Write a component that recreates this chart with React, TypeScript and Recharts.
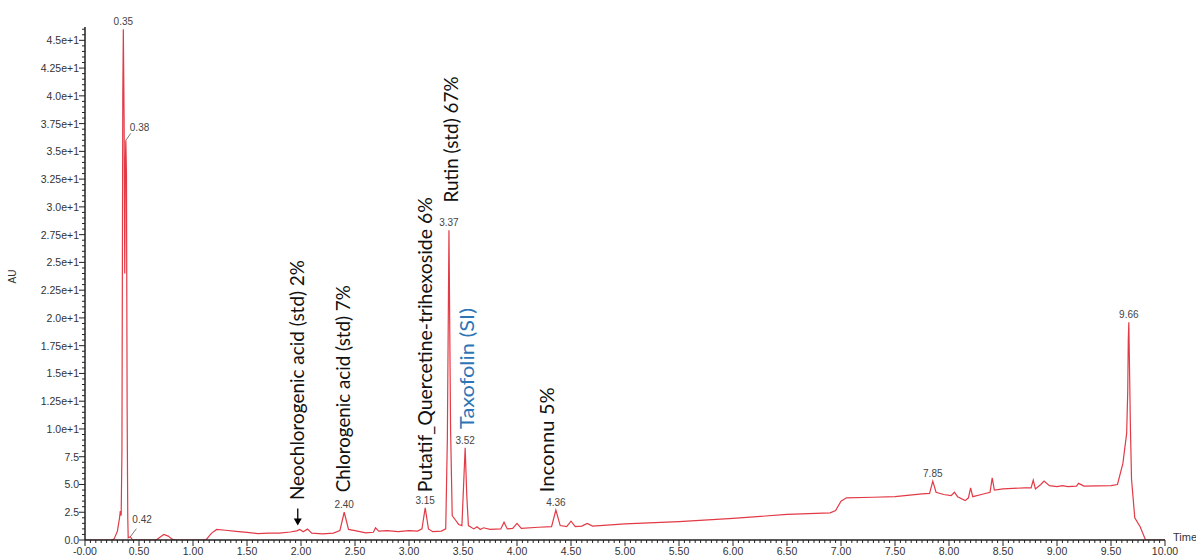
import React from "react";
import { LineChart, Line, XAxis, YAxis, ReferenceDot, Label } from "recharts";

// chromatogram trace (time in min, AU)
const retentionTimes = [
  0.0, 0.25, 0.27, 0.3, 0.32, 0.327, 0.335, 0.342, 0.35, 0.355, 0.362, 0.368, 0.374, 0.378, 0.384, 0.39, 0.396, 0.4,
  0.42, 0.44, 0.66, 0.7, 0.73, 0.77, 0.81, 0.84, 1.12, 1.17, 1.22, 1.3, 1.4, 1.5, 1.6, 1.7, 1.8, 1.9, 1.96, 1.99,
  2.02, 2.06, 2.1, 2.2, 2.3, 2.36, 2.4, 2.44, 2.5, 2.6, 2.67, 2.69, 2.72, 2.8, 2.9, 3.0, 3.08, 3.12, 3.15, 3.18,
  3.22, 3.3, 3.34, 3.355, 3.37, 3.385, 3.4, 3.43, 3.46, 3.49, 3.51, 3.52, 3.535, 3.55, 3.6, 3.63, 3.66, 3.69, 3.75,
  3.85, 3.88, 3.91, 3.96, 4.0, 4.04, 4.2, 4.32, 4.36, 4.4, 4.46, 4.5, 4.54, 4.6, 4.65, 4.7, 5.0, 5.5, 6.0, 6.5, 6.9,
  6.95, 7.0, 7.05, 7.3, 7.5, 7.75, 7.82, 7.85, 7.88, 7.95, 8.02, 8.05, 8.08, 8.15, 8.18, 8.2, 8.22, 8.3, 8.38, 8.4,
  8.42, 8.5, 8.7, 8.76, 8.78, 8.8, 8.85, 8.88, 8.93, 9.0, 9.05, 9.1, 9.18, 9.2, 9.25, 9.5, 9.56, 9.61, 9.645, 9.655,
  9.66, 9.665, 9.68, 9.69, 9.72, 9.77, 9.82, 10.0,
];
const absorbance = [
  0.0, 0.0, 0.1, 0.8, 2.0, 2.6, 2.2, 8, 40, 46, 38, 24, 34, 36, 33, 12, 2, 0.2,
  0.3, 0.0, 0.0, 0.3, 0.5, 0.35, 0.05, 0.0, 0.0, 0.6, 0.95, 0.88, 0.78, 0.68, 0.58, 0.62, 0.62, 0.72, 0.82, 0.95,
  0.75, 0.98, 0.62, 0.55, 0.62, 0.85, 2.5, 0.95, 0.85, 0.65, 0.7, 1.1, 0.8, 0.85, 0.75, 0.85, 0.8, 1.0, 2.9, 1.0,
  0.75, 0.8, 1.0, 9, 27.9, 10, 2.2, 1.8, 1.4, 1.3, 6, 8.3, 4, 1.3, 1.0, 1.2, 0.95, 1.1, 0.95,
  1.0, 1.6, 1.0, 1.05, 1.5, 1.05, 1.15, 1.2, 2.7, 1.3, 1.2, 1.7, 1.2, 1.25, 1.5, 1.25, 1.45, 1.65, 1.95, 2.3, 2.45,
  2.65, 3.5, 3.8, 3.85, 3.9, 4.15, 4.2, 5.3, 4.3, 4.1, 4.0, 4.3, 3.9, 3.55, 3.8, 4.7, 3.9, 4.1, 4.3, 5.6,
  4.5, 4.6, 4.7, 4.7, 5.4, 4.6, 5.0, 5.3, 4.9, 4.8, 4.9, 4.8, 4.85, 5.1, 4.85, 4.9, 5.0, 6.9, 9.6, 13.4,
  18, 19.6, 10, 5.5, 2.0, 1.2, 0.0, 0.0,
];

const xTickValues = [0, 0.5, 1, 1.5, 2, 2.5, 3, 3.5, 4, 4.5, 5, 5.5, 6, 6.5, 7, 7.5, 8, 8.5, 9, 9.5, 10];
const xTickLabels = [
  "-0.00", "0.50", "1.00", "1.50", "2.00", "2.50", "3.00", "3.50", "4.00", "4.50", "5.00",
  "5.50", "6.00", "6.50", "7.00", "7.50", "8.00", "8.50", "9.00", "9.50", "10.00",
];
const yTickValues = [0, 2.5, 5, 7.5, 10, 12.5, 15, 17.5, 20, 22.5, 25, 27.5, 30, 32.5, 35, 37.5, 40, 42.5, 45];
const yTickLabels = [
  "0.0", "2.5", "5.0", "7.5", "1.0e+1", "1.25e+1", "1.5e+1", "1.75e+1", "2.0e+1", "2.25e+1", "2.5e+1",
  "2.75e+1", "3.0e+1", "3.25e+1", "3.5e+1", "3.75e+1", "4.0e+1", "4.25e+1", "4.5e+1",
];

// peak apex labels
const peakTimes = [0.355, 0.378, 0.42, 2.4, 3.15, 3.37, 3.52, 4.36, 7.85, 9.665];
const peakHeights = [46, 36, 0.3, 2.5, 2.9, 27.9, 8.3, 2.7, 5.3, 19.6];
const peakLabels = ["0.35", "0.38", "0.42", "2.40", "3.15", "3.37", "3.52", "4.36", "7.85", "9.66"];

// compound names written vertically over the peaks
const compoundNames = [
  "Neochlorogenic acid (std) 2%",
  "Chlorogenic acid (std) 7%",
  "Putatif_Quercetine-trihexoside 6%",
  "Rutin (std) 67%",
  "Taxofolin (SI)",
  "Inconnu 5%",
];
const compoundTimes = [1.963, 2.39, 3.15, 3.39, 3.54, 4.28];
const compoundBase = [3.6, 4.3, 4.3, 30.4, 10.0, 4.3];
const compoundColors = ["#111", "#111", "#111", "#111", "#2e75b6", "#111"];
const compoundLengths = [240, 207, 295, 126, 121, 105];

const data = retentionTimes.map((t, i) => ({ t, au: absorbance[i] }));

const xMinor = Array.from({ length: 201 }, (_, i) => Math.round(i * 5) / 100);
const yMinor = Array.from({ length: 93 }, (_, i) => i / 2);

const axisColor = "#222";
const tickFont = "'Liberation Sans', Arial, sans-serif";

const findMajor = (list: number[], v: number) => list.findIndex((m) => Math.abs(m - v) < 1e-6);

const XTick = (props: any) => {
  const { x, y, payload } = props;
  const idx = findMajor(xTickValues, payload.value);
  const major = idx >= 0;
  return (
    <g>
      <line x1={x} x2={x} y1={y} y2={y + (major ? 6 : 3)} stroke={axisColor} strokeWidth={1} />
      {major && (
        <text x={x} y={y + 15} textAnchor="middle" fontSize={10.5} fill="#333" fontFamily={tickFont}>
          {xTickLabels[idx]}
        </text>
      )}
    </g>
  );
};

const YTick = (props: any) => {
  const { x, y, payload } = props;
  const idx = findMajor(yTickValues, payload.value);
  const major = idx >= 0;
  return (
    <g>
      <line x1={x - (major ? 6 : 3)} x2={x} y1={y} y2={y} stroke={axisColor} strokeWidth={1} />
      {major && (
        <text x={x - 6} y={y + 4} textAnchor="end" fontSize={10.5} fill="#333" fontFamily={tickFont}>
          {yTickLabels[idx]}
        </text>
      )}
    </g>
  );
};

const peakShape = (i: number) => (p: any) => {
  const { cx, cy } = p;
  const text = peakLabels[i];
  if (text === "0.38") {
    return (
      <g>
        <line x1={cx} y1={cy} x2={cx + 5} y2={cy - 7} stroke="#555" strokeWidth={0.8} />
        <text x={cx + 4} y={cy - 9} fontSize={10} fill="#444" fontFamily={tickFont}>{text}</text>
      </g>
    );
  }
  if (text === "0.42") {
    return (
      <g>
        <line x1={cx} y1={cy} x2={cx + 6} y2={cy - 8} stroke="#555" strokeWidth={0.8} />
        <text x={cx + 2} y={cy - 14} fontSize={10} fill="#444" fontFamily={tickFont}>{text}</text>
      </g>
    );
  }
  return (
    <text x={cx} y={cy - 4} textAnchor="middle" fontSize={10} fill="#444" fontFamily={tickFont}>
      {text}
    </text>
  );
};

const compoundShape = (i: number) => (p: any) => {
  const { cx, cy } = p;
  return (
    <text
      transform={`translate(${cx + 7}, ${cy}) rotate(-90)`}
      x={0}
      y={0}
      fontSize={19}
      fill={compoundColors[i]}
      fontFamily="Lato, 'Open Sans', sans-serif"
      textLength={compoundLengths[i]}
      lengthAdjust="spacingAndGlyphs"
    >
      {compoundNames[i]}
    </text>
  );
};

const arrowShape = (p: any) => {
  const { cx, cy } = p;
  return (
    <g>
      <line x1={cx} y1={cy - 17} x2={cx} y2={cy - 5} stroke="#000" strokeWidth={1.3} />
      <path d={`M${cx - 4},${cy - 7} L${cx + 4},${cy - 7} L${cx},${cy} Z`} fill="#000" />
    </g>
  );
};

const TimeLabel = (p: any) => {
  const { viewBox } = p;
  return (
    <text x={viewBox.x + viewBox.width + 8} y={viewBox.y + 1} fontSize={11} fill="#333" fontFamily={tickFont}>
      Time
    </text>
  );
};

export default function App() {
  return (
    <div style={{ position: "absolute", left: 0, top: 0, width: 1196, height: 556, background: "#fff" }}>
      <LineChart width={1196} height={556} data={data} margin={{ top: 27, right: 31, bottom: 0, left: 10 }}>
        <XAxis
          dataKey="t"
          type="number"
          domain={[0, 10]}
          ticks={xMinor}
          interval={0}
          tickSize={0}
          tickMargin={0}
          tickLine={false}
          tick={XTick}
          height={16}
          axisLine={{ stroke: axisColor, strokeWidth: 1.5 }}
          allowDataOverflow
        >
          <Label content={TimeLabel} />
        </XAxis>
        <YAxis
          type="number"
          domain={[0, 46.2]}
          ticks={yMinor}
          interval={0}
          tickSize={0}
          tickMargin={0}
          tickLine={false}
          tick={YTick}
          width={75}
          axisLine={{ stroke: axisColor, strokeWidth: 1.5 }}
          allowDataOverflow
        >
          <Label value="AU" angle={-90} position="insideLeft" offset={2} fontSize={10} fill="#333" fontFamily={tickFont} />
        </YAxis>
        <Line
          type="linear"
          dataKey="au"
          stroke="#e23a46"
          strokeWidth={1.2}
          dot={false}
          isAnimationActive={false}
        />
        {peakTimes.map((t, i) => (
          <ReferenceDot key={`p${i}`} x={t} y={peakHeights[i]} r={0} shape={peakShape(i)} ifOverflow="visible" />
        ))}
        {compoundTimes.map((t, i) => (
          <ReferenceDot key={`c${i}`} x={t} y={compoundBase[i]} r={0} shape={compoundShape(i)} ifOverflow="visible" />
        ))}
        <ReferenceDot x={1.97} y={1.3} r={0} shape={arrowShape} ifOverflow="visible" />
      </LineChart>
    </div>
  );
}
